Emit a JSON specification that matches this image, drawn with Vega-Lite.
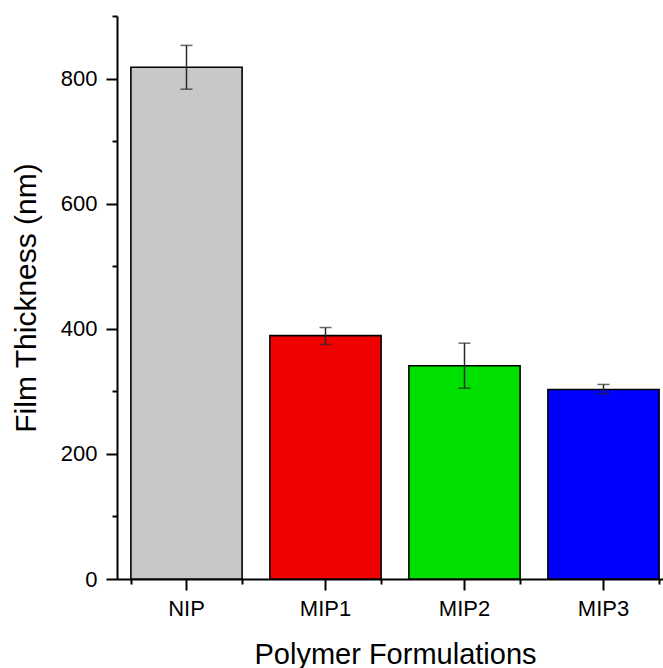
{
  "$schema": "https://vega.github.io/schema/vega-lite/v6.json",
  "autosize": {"type": "none"},
  "padding": {"left": 117, "top": 16, "right": 0, "bottom": 89},
  "width": 546,
  "height": 563,
  "background": "white",
  "config": {
    "view": {"stroke": null},
    "font": "Liberation Sans",
    "axis": {
      "labelFont": "Liberation Sans",
      "titleFont": "Liberation Sans",
      "labelColor": "black",
      "titleColor": "black",
      "titleFontWeight": "normal",
      "domainColor": "black",
      "tickColor": "black",
      "domainWidth": 2,
      "tickWidth": 2,
      "grid": false,
      "zindex": 1
    }
  },
  "data": {
    "values": [
      {"Formulation": "NIP", "Thickness": 818, "low": 783, "high": 853},
      {"Formulation": "MIP1", "Thickness": 389, "low": 375, "high": 402},
      {"Formulation": "MIP2", "Thickness": 341, "low": 305, "high": 377},
      {"Formulation": "MIP3", "Thickness": 303, "low": 296, "high": 311}
    ]
  },
  "layer": [
    {
      "mark": {"type": "bar", "stroke": "black", "strokeWidth": 1.6},
      "encoding": {
        "x": {
          "field": "Formulation",
          "type": "nominal",
          "sort": ["NIP", "MIP1", "MIP2", "MIP3"],
          "scale": {"paddingInner": 0.2, "paddingOuter": 0.1, "range": [0, 556]},
          "axis": {
            "orient": "bottom",
            "title": "Polymer Formulations",
            "titleFontSize": 29,
            "titlePadding": 21,
            "labelFontSize": 22,
            "labelAngle": 0,
            "labelPadding": 8,
            "ticks": true,
            "tickSize": 11,
            "tickBand": "center",
            "domain": true
          }
        },
        "y": {
          "field": "Thickness",
          "type": "quantitative",
          "scale": {"domain": [0, 900], "nice": false},
          "axis": {
            "orient": "left",
            "title": "Film Thickness (nm)",
            "titleFontSize": 30,
            "titlePadding": 19,
            "labelFontSize": 22,
            "labelPadding": 9,
            "values": [0, 200, 400, 600, 800],
            "ticks": true,
            "tickSize": 11,
            "domain": true
          }
        },
        "color": {
          "field": "Formulation",
          "type": "nominal",
          "legend": null,
          "scale": {
            "domain": ["NIP", "MIP1", "MIP2", "MIP3"],
            "range": ["#c8c8c8", "#f00000", "#00e000", "#0000ff"]
          }
        }
      }
    },
    {
      "mark": {"type": "rule", "color": "#2a2a2a", "strokeWidth": 1.5},
      "encoding": {
        "x": {
          "field": "Formulation",
          "type": "nominal",
          "sort": ["NIP", "MIP1", "MIP2", "MIP3"],
          "axis": {
            "orient": "bottom",
            "title": null,
            "labels": false,
            "domain": false,
            "ticks": true,
            "tickBand": "extent",
            "tickSize": 5
          }
        },
        "y": {
          "field": "low",
          "type": "quantitative",
          "axis": {
            "orient": "left",
            "title": null,
            "labels": false,
            "domain": false,
            "ticks": true,
            "values": [100, 300, 500, 700, 900],
            "tickSize": 5
          }
        },
        "y2": {"field": "high"}
      }
    },
    {
      "mark": {"type": "tick", "color": "#2a2a2a", "thickness": 1.5, "size": 12, "orient": "horizontal"},
      "encoding": {
        "x": {"field": "Formulation", "type": "nominal", "sort": ["NIP", "MIP1", "MIP2", "MIP3"], "axis": null},
        "y": {"field": "low", "type": "quantitative", "axis": null}
      }
    },
    {
      "mark": {"type": "tick", "color": "#2a2a2a", "thickness": 1.5, "size": 12, "orient": "horizontal"},
      "encoding": {
        "x": {"field": "Formulation", "type": "nominal", "sort": ["NIP", "MIP1", "MIP2", "MIP3"], "axis": null},
        "y": {"field": "high", "type": "quantitative", "axis": null}
      }
    }
  ],
  "resolve": {"axis": {"x": "independent", "y": "independent"}}
}
